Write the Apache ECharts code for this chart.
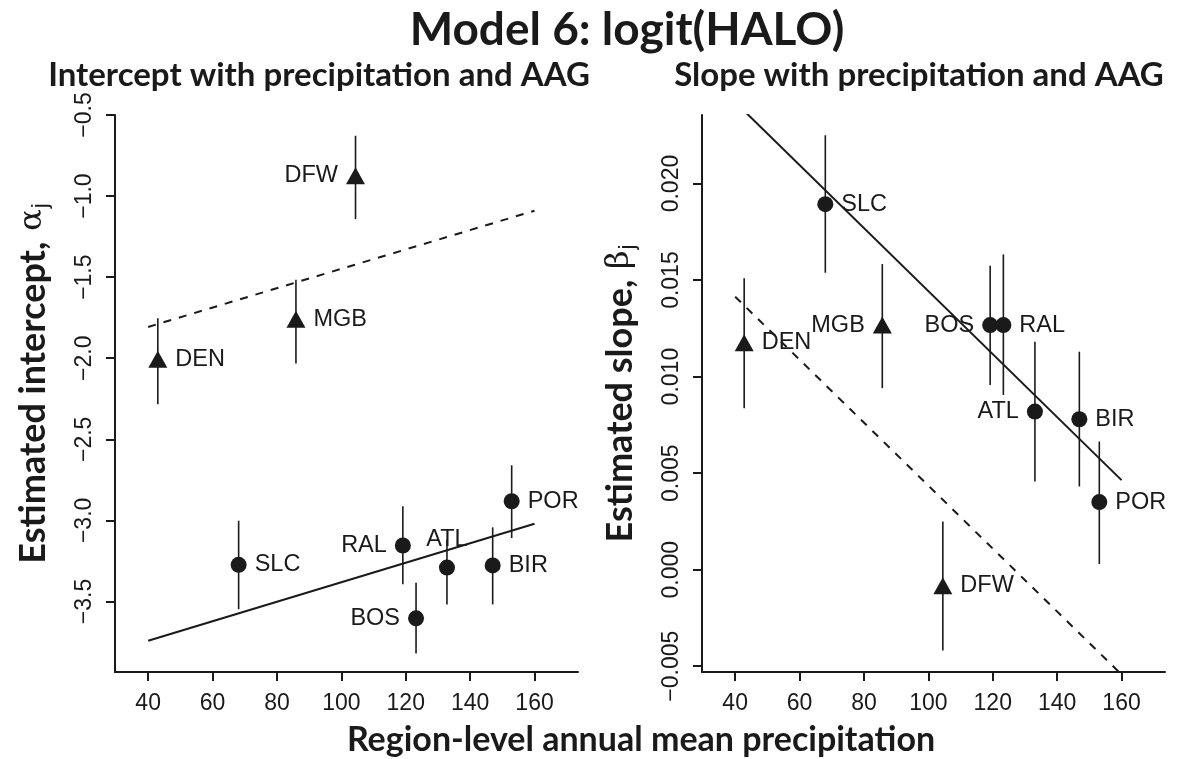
<!DOCTYPE html>
<html><head><meta charset="utf-8">
<script src="https://cdn.jsdelivr.net/npm/echarts@6/dist/echarts.min.js"></script>
<style>html,body{margin:0;padding:0;background:#fff}#c{width:1183px;height:759px}</style>
</head><body><div id="c"></div>
<script>
// ---- data ----
const sites = ['DEN','MGB','DFW','SLC','RAL','BOS','ATL','BIR','POR'];
const markers = ['triangle','triangle','triangle','circle','circle','circle','circle','circle','circle'];
// left panel: intercept
const interceptX  = [43.0, 85.9, 104.4, 68.1, 119.1, 123.2, 132.8, 147.0, 152.9];
const interceptEst = [-2.006, -1.759, -0.874, -3.274, -3.155, -3.604, -3.291, -3.278, -2.882];
const interceptLo  = [-2.284, -2.033, -1.142, -3.548, -3.394, -3.821, -3.518, -3.518, -3.109];
const interceptHi  = [-1.753, -1.516, -0.628, -3.002, -2.913, -3.384, -3.120, -3.043, -2.660];
// right panel: slope
const slopeX   = [42.8, 85.7, 104.5, 68.0, 123.3, 119.2, 133.1, 146.9, 153.1];
const slopeEst = [0.01176, 0.01267, -0.00083, 0.01893, 0.01267, 0.01267, 0.00819, 0.00779, 0.00350];
const slopeLo  = [0.00836, 0.00940, -0.00419, 0.01538, 0.00905, 0.00957, 0.00457, 0.00431, 0.00029];
const slopeHi  = [0.01509, 0.01583, 0.00250, 0.02250, 0.01633, 0.01574, 0.01181, 0.01129, 0.00664];
// fitted lines
const lineX = [40, 160];
const interceptSolid  = [-3.742, -3.021];
const interceptDashed = [-1.807, -1.090];
const slopeSolid  = [0.02422, 0.00464];
const slopeDashed = [0.01414, -0.00543];
// ticks
const xTicks = [40, 60, 80, 100, 120, 140, 160];
const interceptTicks = [-3.5, -3.0, -2.5, -2.0, -1.5, -1.0, -0.5];
const slopeTicks = [-0.005, 0, 0.005, 0.010, 0.015, 0.020];

// ---- label placement (layout) ----
const interceptLabelPos = ['right','right','left','right','left','left','top','right','right'];
const slopeLabelPos     = ['right','left','right','right','right','left','left','right','right'];

const INK = '#1a1a1a';
const tickFont = 'Liberation Sans';
const titleFont = 'Lato';

function xAxisCfg(gi) {
  return {
    type: 'value', gridIndex: gi, min: 29.7, max: 173.5,
    axisLine: { show: true, onZero: false, lineStyle: { color: INK, width: 2 } },
    axisTick: { show: true, customValues: xTicks, length: 9, lineStyle: { color: INK, width: 2 } },
    axisLabel: { customValues: xTicks, fontSize: 23, color: INK, fontFamily: tickFont, margin: 20 },
    splitLine: { show: false }
  };
}
function yAxisCfg(gi, min, max, ticks, fmt, nameTxt, greek, shift) {
  return {
    type: 'value', gridIndex: gi, min: min, max: max,
    axisLine: { show: true, onZero: false, lineStyle: { color: INK, width: 2 } },
    axisTick: { show: true, customValues: ticks, length: 9, lineStyle: { color: INK, width: 2 } },
    axisLabel: { customValues: ticks, rotate: 90, fontSize: 23, color: INK, fontFamily: tickFont, margin: 19, formatter: fmt },
    splitLine: { show: false },
    name: '{t|' + nameTxt + '}{g|' + greek + '}{s|j}',
    nameLocation: 'middle', nameRotate: 90, nameGap: 63,
    nameTextStyle: {
      rich: {
        t: { fontFamily: titleFont, fontWeight: 'bold', fontSize: 36, color: INK, padding: [0, 0, 0, shift] },
        g: { fontFamily: 'DejaVu Serif', fontSize: 32, color: INK, padding: [0, 0, 0, 2] },
        s: { fontFamily: tickFont, fontSize: 22, color: INK, padding: [16, 0, 0, 1] }
      }
    }
  };
}
const fmtIntercept = v => v.toFixed(1).replace('-', '\u2212');
const fmtSlope = v => (Math.abs(v) < 1e-12 ? '0.000' : v.toFixed(3).replace('-', '\u2212'));

function errSeries(xi, yi, xs, lo, hi) {
  return {
    type: 'custom', xAxisIndex: xi, yAxisIndex: yi, silent: true, z: 3,
    data: xs.map((x, i) => [x, lo[i], hi[i]]),
    encode: { x: 0, y: [1, 2] },
    renderItem: (params, api) => {
      const a = api.coord([api.value(0), api.value(1)]);
      const b = api.coord([api.value(0), api.value(2)]);
      return { type: 'line', shape: { x1: a[0], y1: a[1], x2: b[0], y2: b[1] },
               style: { stroke: INK, lineWidth: 1.6 } };
    }
  };
}
function pointSeries(xi, yi, xs, ys, pos) {
  return {
    type: 'scatter', xAxisIndex: xi, yAxisIndex: yi, z: 5,
    data: sites.map((s, i) => ({
      name: s, value: [xs[i], ys[i]], symbol: markers[i],
      symbolSize: markers[i] === 'circle' ? 16 : [19, 17],
      label: { show: true, position: pos[i] }
    })),
    itemStyle: { color: INK, opacity: 1 },
    label: { formatter: p => p.name, fontSize: 23.5, color: INK, fontFamily: tickFont, distance: 8 }
  };
}
function lineSeries(xi, yi, ys, dashed) {
  return {
    type: 'line', xAxisIndex: xi, yAxisIndex: yi, z: 2, clip: true,
    showSymbol: false, silent: true,
    data: lineX.map((x, i) => [x, ys[i]]),
    lineStyle: { color: INK, width: 2, type: dashed ? [8, 8] : 'solid' }
  };
}

const chart = echarts.init(document.getElementById('c'), null, { renderer: 'canvas' });
chart.setOption({
  animation: false,
  backgroundColor: '#ffffff',
  grid: [
    { left: 115, top: 115, width: 463, height: 557 },
    { left: 702, top: 115, width: 463, height: 557 }
  ],
  xAxis: [xAxisCfg(0), xAxisCfg(1)],
  yAxis: [
    yAxisCfg(0, -3.935, -0.5, interceptTicks, fmtIntercept, 'Estimated intercept, ', '\u03b1', 20),
    yAxisCfg(1, -0.0053, 0.02355, slopeTicks, fmtSlope, 'Estimated slope, ', '\u03b2', 0)
  ],
  series: [
    lineSeries(0, 0, interceptSolid, false),
    lineSeries(0, 0, interceptDashed, true),
    errSeries(0, 0, interceptX, interceptLo, interceptHi),
    pointSeries(0, 0, interceptX, interceptEst, interceptLabelPos),
    lineSeries(1, 1, slopeSolid, false),
    lineSeries(1, 1, slopeDashed, true),
    errSeries(1, 1, slopeX, slopeLo, slopeHi),
    pointSeries(1, 1, slopeX, slopeEst, slopeLabelPos)
  ],
  graphic: [
    { type: 'text', x: 627, y: 30, style: { text: 'Model 6: logit(HALO)', fontFamily: titleFont, fontWeight: 'bold', fontSize: 46, fill: INK, textAlign: 'center', textVerticalAlign: 'middle' } },
    { type: 'text', x: 319, y: 75, style: { text: 'Intercept with precipitation and AAG', fontFamily: titleFont, fontWeight: 'bold', fontSize: 33, fill: INK, textAlign: 'center', textVerticalAlign: 'middle' } },
    { type: 'text', x: 919, y: 75, style: { text: 'Slope with precipitation and AAG', fontFamily: titleFont, fontWeight: 'bold', fontSize: 33, fill: INK, textAlign: 'center', textVerticalAlign: 'middle' } },
    { type: 'text', x: 641, y: 740, style: { text: 'Region-level annual mean precipitation', fontFamily: titleFont, fontWeight: 'bold', fontSize: 34, fill: INK, textAlign: 'center', textVerticalAlign: 'middle' } }
  ]
});
</script>
</body></html>
